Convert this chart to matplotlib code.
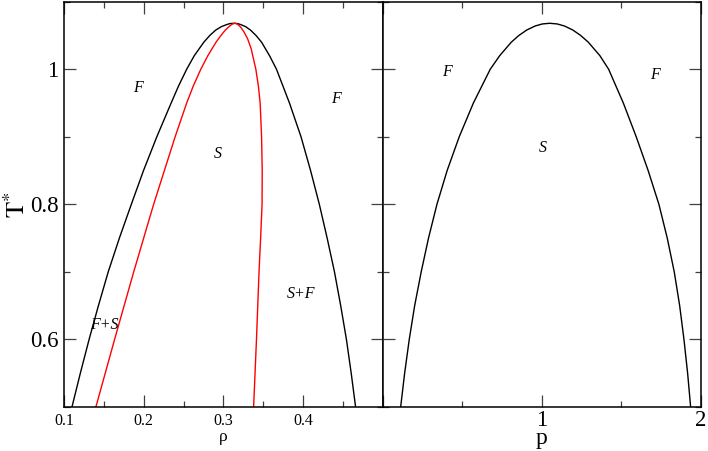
import matplotlib.pyplot as plt
from matplotlib.ticker import MultipleLocator, FixedLocator

plt.rcParams['font.family'] = ['Liberation Serif', 'DejaVu Serif']
plt.rcParams['mathtext.fontset'] = 'stix'

# left panel: coexistence curves, density rho vs T*
black_rho = [0.110, 0.1205, 0.1315, 0.1432, 0.1555, 0.1695, 0.1845, 0.1998, 0.2165, 0.2345,
             0.2437, 0.254, 0.2635, 0.2755, 0.2830, 0.2905, 0.2975, 0.304, 0.308, 0.313,
             0.318, 0.322, 0.328, 0.334, 0.341, 0.348, 0.358, 0.3667, 0.383, 0.3975,
             0.4095, 0.4205, 0.4303, 0.4395, 0.4473, 0.4545, 0.4605, 0.466]
black_T = [0.50, 0.55, 0.60, 0.65, 0.70, 0.75, 0.80, 0.85, 0.90, 0.95,
           0.975, 1.00, 1.02, 1.04, 1.05, 1.058, 1.063, 1.066, 1.0675, 1.068,
           1.0675, 1.066, 1.063, 1.058, 1.05, 1.04, 1.02, 1.00, 0.95, 0.90,
           0.85, 0.80, 0.75, 0.70, 0.65, 0.60, 0.55, 0.50]

red_rho = [0.140, 0.1635, 0.1875, 0.2125, 0.2395, 0.2540, 0.2622, 0.2717, 0.2805, 0.2908,
           0.297, 0.3025, 0.308, 0.3115, 0.3145, 0.3165, 0.3185, 0.322, 0.326, 0.3305,
           0.3350, 0.3408, 0.3440, 0.3462, 0.3480, 0.3488, 0.3486, 0.3468, 0.3448, 0.3432,
           0.3416, 0.3398, 0.338]
red_T = [0.50, 0.60, 0.70, 0.80, 0.90, 0.95, 0.975, 1.00, 1.02, 1.04,
         1.05, 1.058, 1.064, 1.067, 1.068, 1.0675, 1.066, 1.062, 1.055, 1.045,
         1.03, 1.00, 0.975, 0.95, 0.90, 0.85, 0.80, 0.75, 0.70, 0.65,
         0.60, 0.55, 0.50]

# right panel: p vs T*
p_vals = [0.113, 0.138, 0.167, 0.201, 0.242, 0.288, 0.341, 0.405, 0.481, 0.570,
          0.676, 0.735, 0.808, 0.856, 0.905, 0.958, 1.003, 1.05, 1.097, 1.142,
          1.195, 1.244, 1.292, 1.365, 1.4196, 1.512, 1.593, 1.668, 1.7356, 1.788,
          1.832, 1.866, 1.893, 1.916, 1.935]
p_T = [0.50, 0.55, 0.60, 0.65, 0.70, 0.75, 0.80, 0.85, 0.90, 0.95,
       1.00, 1.02, 1.04, 1.05, 1.058, 1.064, 1.067, 1.068, 1.067, 1.064,
       1.058, 1.05, 1.04, 1.02, 1.00, 0.95, 0.90, 0.85, 0.80, 0.75,
       0.70, 0.65, 0.60, 0.55, 0.50]


def style_axes(ax):
    for s in ax.spines.values():
        s.set_linewidth(1.1)
    ax.tick_params(which='both', direction='in', top=True, right=True,
                   color='0.25', width=0.9, pad=4)
    ax.tick_params(which='major', length=8.5)
    ax.tick_params(which='minor', length=4.5)


fig = plt.figure(figsize=(7.08, 4.51), dpi=100)
ax1 = fig.add_axes([0.0904, 0.0976, 0.4501, 0.8987])
ax2 = fig.add_axes([0.5405, 0.0976, 0.4496, 0.8987])

ax1.plot(black_rho, black_T, color='k', lw=1.0)
ax1.plot(red_rho, red_T, color='red', lw=1.0)
ax1.set_xlim(0.1, 0.5)
ax1.set_ylim(0.5, 1.1)
ax1.xaxis.set_major_locator(FixedLocator([0.1, 0.2, 0.3, 0.4, 0.5]))
ax1.xaxis.set_minor_locator(MultipleLocator(0.05))
ax1.set_xticklabels(['0.1', '0.2', '0.3', '0.4', ''], fontsize=11.5)
ax1.yaxis.set_major_locator(FixedLocator([0.6, 0.8, 1.0]))
ax1.yaxis.set_minor_locator(MultipleLocator(0.1))
ax1.set_yticklabels(['0.6', '0.8', '1'], fontsize=16.5)
ax1.set_xlabel('ρ', fontsize=12.5, labelpad=0)
ax1.set_ylabel('$\\mathrm{T}^{*}$', fontsize=19)
ax1.yaxis.set_label_coords(-0.108, 0.5)
style_axes(ax1)

lab = dict(fontsize=11.5, style='italic', ha='center', va='center')
ax1.text(0.1925, 0.972, 'F', **lab)
ax1.text(0.4417, 0.956, 'F', **lab)
ax1.text(0.293, 0.875, 'S', **lab)
ax1.text(0.397, 0.667, 'S+F', **lab)
ax1.text(0.151, 0.621, 'F+S', **lab)

ax2.plot(p_vals, p_T, color='k', lw=1.0)
ax2.set_xlim(0, 2)
ax2.set_ylim(0.5, 1.1)
ax2.xaxis.set_major_locator(FixedLocator([0, 1, 2]))
ax2.xaxis.set_minor_locator(MultipleLocator(0.5))
ax2.set_xticklabels(['', '1', '2'], fontsize=16.5)
ax2.yaxis.set_major_locator(FixedLocator([0.6, 0.8, 1.0]))
ax2.yaxis.set_minor_locator(MultipleLocator(0.1))
ax2.set_yticklabels([])
ax2.set_xlabel('p', fontsize=17, labelpad=-2)
style_axes(ax2)
ax2.tick_params(axis='x', which='major', pad=2)

ax2.text(0.406, 0.996, 'F', **lab)
ax2.text(1.71, 0.991, 'F', **lab)
ax2.text(1.009, 0.883, 'S', **lab)

fig.savefig('out.png', dpi=100)
